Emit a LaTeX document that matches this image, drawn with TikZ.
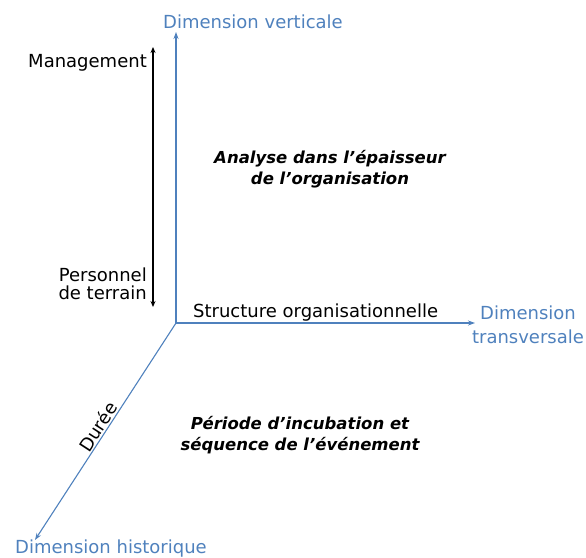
\documentclass[tikz,border=0pt]{standalone}
\usepackage{fontspec}
\setmainfont{DejaVu Sans}
\usetikzlibrary{arrows.meta}
\definecolor{axisblue}{RGB}{79,129,189}

\begin{document}
\begin{tikzpicture}[x=1pt, y=-1pt,
    axis/.style = {draw=axisblue, line width=1.1pt, -{Stealth[length=7pt, width=5pt]}},
    axislabel/.style = {text=axisblue, inner sep=0pt, font=\fontsize{18}{24}\selectfont},
    plain/.style = {inner sep=0pt, font=\fontsize{18}{18}\selectfont},
    region/.style = {inner sep=0pt, align=center, font=\fontsize{16.5}{20.5}\selectfont\bfseries\itshape}]
    \useasboundingbox (0,0) rectangle (586,557);

    % axes
    \coordinate (O) at (176,323);
    \coordinate (vert) at (176,32);
    \coordinate (trans) at (475,323);
    \coordinate (hist) at (35,540);
    \draw[axis] (O) -- (vert);
    \draw[axis] (O) -- (trans);
    \draw[axis] (O) -- node[pos=0.5, sloped, above, plain, inner sep=1pt] (duree) {Durée} (hist);

    \node[axislabel, anchor=base west] (vertlabel) at (163,28) {Dimension verticale};
    \node[axislabel, align=center] (translabel) at (528,325) {Dimension\\transversale};
    \node[axislabel, anchor=base west] (histlabel) at (15,553) {Dimension historique};

    % hierarchy
    \coordinate (top) at (153,47);
    \coordinate (bottom) at (153,307);
    \draw[line width=1.8pt, {Stealth[length=6pt, width=5pt]}-{Stealth[length=6pt, width=5pt]}] (bottom) -- (top);
    \node[plain, anchor=base east] (mgmt) at (147,67) {Management};
    \node[plain, align=right, anchor=east] (terrain) at (147,284) {Personnel\\de terrain};

    \node[plain, anchor=base west] (struct) at (193,317) {Structure organisationnelle};

    % regions
    \node[region] (analyse) at (330,169) {Analyse dans l’épaisseur\\de l’organisation};
    \node[region] (periode) at (300,435) {Période d’incubation et\\séquence de l’événement};
\end{tikzpicture}
\end{document}
